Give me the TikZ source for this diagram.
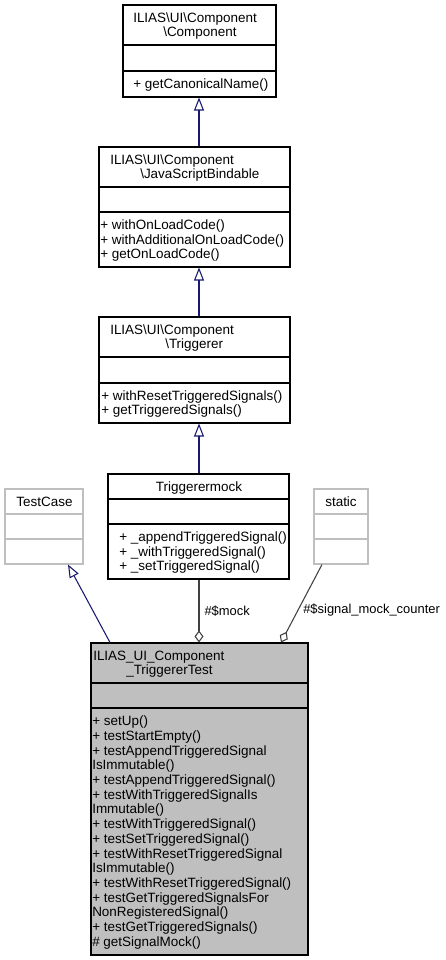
\documentclass[tikz,border=0pt]{standalone}
\usepackage{fontspec}
\setmainfont{Liberation Sans}
\usetikzlibrary{arrows.meta,fit}
\definecolor{edgeblue}{HTML}{191970}
\definecolor{boxgray}{HTML}{BFBFBF}
\definecolor{edgegray}{HTML}{404040}
\definecolor{lightborder}{HTML}{BFBFBF}
\begin{document}
\begin{tikzpicture}[x=0.75pt,y=-0.75pt,
  cls/.style={draw=black,line width=0.8pt,inner sep=0pt},
  extcls/.style={draw=lightborder,line width=0.8pt,inner sep=0pt},
  sep/.style={line width=0.8pt},
  lsep/.style={line width=0.8pt,draw=lightborder},
  txt/.style={anchor=base west,inner sep=0pt,font=\fontsize{10.1}{11}\selectfont},
  ctxt/.style={anchor=base,inner sep=0pt,font=\fontsize{10.1}{11}\selectfont},
  inh/.style={draw=edgeblue,line width=0.8pt,-{Triangle[open,length=9.75pt,width=7.5pt]}},
  agg/.style={draw=edgegray,line width=0.8pt,{Diamond[open,length=9pt,width=6.75pt]}-},
  lbl/.style={anchor=west,inner sep=0pt,font=\fontsize{9.7}{11}\selectfont}]
\useasboundingbox (0,0) rectangle (446,960);

% Component
\node[cls,fit={(123,5)(276,97)}] (comp) {};
\draw[sep] (123,45) -- (276,45);
\draw[sep] (123,71) -- (276,71);
\node[txt] (c1) at (133,22.1) {ILIAS\textbackslash UI\textbackslash Component};
\node[txt] (c2) at (163,36.8) {\textbackslash Component};
\node[txt] (c3) at (133,88.5) {+ getCanonicalName()};

% JavaScriptBindable
\node[cls,fit={(99,147)(290,267)}] (jsb) {};
\draw[sep] (99,187) -- (290,187);
\draw[sep] (99,212) -- (290,212);
\node[txt] (j1) at (110,164.1) {ILIAS\textbackslash UI\textbackslash Component};
\node[txt] (j2) at (140,178.8) {\textbackslash JavaScriptBindable};
\node[txt] (j3) at (100,229.3) {+ withOnLoadCode()};
\node[txt] (j4) at (100,244.0) {+ withAdditionalOnLoadCode()};
\node[txt] (j5) at (100,258.7) {+ getOnLoadCode()};

% Triggerer
\node[cls,fit={(99,317)(290,423)}] (trig) {};
\draw[sep] (99,357) -- (290,357);
\draw[sep] (99,383) -- (290,383);
\node[txt] (r1) at (110,334.1) {ILIAS\textbackslash UI\textbackslash Component};
\node[txt] (r2) at (165,348.8) {\textbackslash Triggerer};
\node[txt] (r3) at (101,400.1) {+ withResetTriggeredSignals()};
\node[txt] (r4) at (101,414.8) {+ getTriggeredSignals()};

% Triggerermock
\node[cls,fit={(108,474)(289,579)}] (mock) {};
\draw[sep] (108,499) -- (289,499);
\draw[sep] (108,524) -- (289,524);
\node[ctxt] (k1) at (199,491) {Triggerermock};
\node[txt] (k2) at (119,541.3) {+ \_appendTriggeredSignal()};
\node[txt] (k3) at (119,556.0) {+ \_withTriggeredSignal()};
\node[txt] (k4) at (119,570.7) {+ \_setTriggeredSignal()};

% TestCase
\node[extcls,fit={(5,489)(83,564)}] (tc) {};
\draw[lsep] (5,514) -- (83,514);
\draw[lsep] (5,539) -- (83,539);
\node[ctxt] (t1) at (44.5,506) {TestCase};

% static
\node[extcls,fit={(314,489)(368,564)}] (stat) {};
\draw[lsep] (314,514) -- (368,514);
\draw[lsep] (314,539) -- (368,539);
\node[ctxt] (s1) at (341,506) {static};

% Main class
\node[cls,fill=boxgray,fit={(91,643)(308,955)}] (main) {};
\draw[sep] (91,683) -- (308,683);
\draw[sep] (91,708) -- (308,708);
\node[txt] (m1) at (93,660.1) {ILIAS\_UI\_Component};
\node[txt] (m2) at (126,674.8) {\_TriggererTest};
\foreach \t [count=\i] in {
  {+ setUp()},
  {+ testStartEmpty()},
  {+ testAppendTriggeredSignal},
  {IsImmutable()},
  {+ testAppendTriggeredSignal()},
  {+ testWithTriggeredSignalIs},
  {Immutable()},
  {+ testWithTriggeredSignal()},
  {+ testSetTriggeredSignal()},
  {+ testWithResetTriggeredSignal},
  {IsImmutable()},
  {+ testWithResetTriggeredSignal()},
  {+ testGetTriggeredSignalsFor},
  {NonRegisteredSignal()},
  {+ testGetTriggeredSignals()},
  {\# getSignalMock()}}
  \node[txt] (mm\i) at (92,{725.75+(\i-1)*14.7}) {\t};

% connectors
\coordinate (ax) at (199,0);
\coordinate (tcx) at (110,0);
\coordinate (tcb) at (68,0);
\coordinate (stx) at (281,0);
\coordinate (stb) at (322,0);
\draw[inh] (jsb.north -| ax) -- (comp.south -| ax);
\draw[inh] (trig.north -| ax) -- (jsb.south -| ax);
\draw[inh] (mock.north -| ax) -- (trig.south -| ax);
\draw[inh] (main.north -| tcx) -- (tc.south -| tcb);
\draw[agg] (main.north -| ax) -- node[lbl,xshift=3.75pt] (l1) {\#\$mock} (mock.south -| ax);
\draw[agg] (main.north -| stx) -- node[lbl,pos=0.42,xshift=3.4pt] (l2) {\#\$signal\_mock\_counter} (stat.south -| stb);
\end{tikzpicture}
\end{document}
